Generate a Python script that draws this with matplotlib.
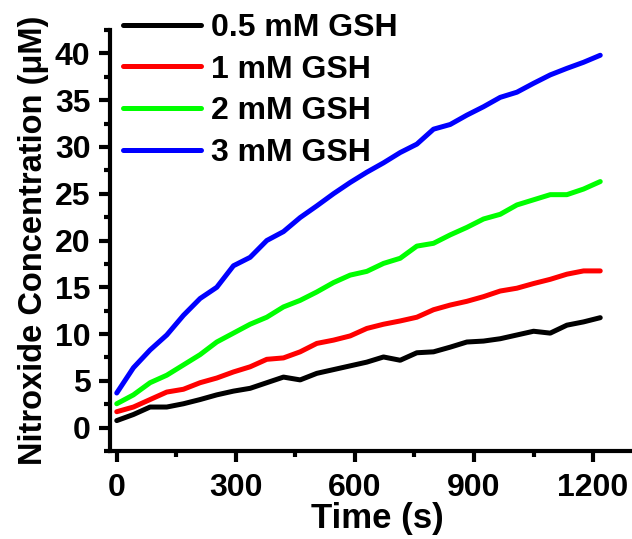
import matplotlib
matplotlib.use("Agg")
import matplotlib.pyplot as plt
from matplotlib.ticker import MultipleLocator

plt.rcParams['font.family'] = ['Liberation Sans', 'DejaVu Sans']
plt.rcParams['font.weight'] = 'bold'

# sampling times (s)
time_s = [0, 42, 84, 126, 168, 210, 252, 294, 336, 378,
          420, 462, 504, 546, 588, 630, 672, 714, 756, 798,
          840, 882, 924, 966, 1008, 1050, 1092, 1134, 1176, 1218]

# nitroxide concentration (uM) for each GSH level
gsh_05 = [0.75, 1.4, 2.2, 2.2, 2.55, 3.0, 3.5, 3.9, 4.2, 4.8,
          5.4, 5.1, 5.8, 6.2, 6.6, 7.0, 7.55, 7.2, 8.0, 8.1,
          8.6, 9.15, 9.25, 9.5, 9.9, 10.3, 10.1, 10.95, 11.3, 11.75]
gsh_1 = [1.7, 2.2, 3.0, 3.8, 4.1, 4.8, 5.3, 5.95, 6.5, 7.3,
         7.45, 8.1, 9.0, 9.35, 9.8, 10.6, 11.05, 11.4, 11.8, 12.6,
         13.1, 13.5, 14.0, 14.6, 14.9, 15.4, 15.85, 16.4, 16.75, 16.75]
gsh_2 = [2.55, 3.5, 4.8, 5.6, 6.7, 7.8, 9.15, 10.1, 11.05, 11.8,
         12.9, 13.6, 14.5, 15.5, 16.3, 16.7, 17.55, 18.1, 19.4, 19.7,
         20.6, 21.4, 22.3, 22.8, 23.8, 24.35, 24.9, 24.9, 25.5, 26.3]
gsh_3 = [3.7, 6.4, 8.3, 9.9, 12.0, 13.8, 15.0, 17.3, 18.2, 20.0,
         20.95, 22.45, 23.7, 25.0, 26.2, 27.3, 28.3, 29.4, 30.3, 31.9,
         32.4, 33.4, 34.3, 35.3, 35.85, 36.8, 37.7, 38.4, 39.05, 39.8]

labels = ['0.5 mM GSH', '1 mM GSH', '2 mM GSH', '3 mM GSH']
colors = ['#000000', '#ff0000', '#00ff00', '#0000ff']

fig = plt.figure(figsize=(6.32, 5.39), dpi=100)
ax = fig.add_axes([110 / 632, 1 - 451 / 539, 522 / 632, 421 / 539])

for y, lab, c in zip([gsh_05, gsh_1, gsh_2, gsh_3], labels, colors):
    ax.plot(time_s, y, color=c, lw=3.6, label=lab, solid_capstyle='round')

ax.set_xlim(-17, 1298)
ax.set_ylim(-2.5, 42.5)
ax.xaxis.set_major_locator(MultipleLocator(300))
ax.xaxis.set_minor_locator(MultipleLocator(150))
ax.yaxis.set_major_locator(MultipleLocator(5))
ax.yaxis.set_minor_locator(MultipleLocator(2.5))

for side in ['top', 'right']:
    ax.spines[side].set_visible(False)
for side in ['left', 'bottom']:
    ax.spines[side].set_linewidth(3)

ax.tick_params(which='major', direction='out', length=8, width=3,
               labelsize=23, pad=6)
ax.tick_params(which='minor', direction='out', length=4.5, width=3)
ax.tick_params(axis='x', which='major', pad=8)

ax.set_xlabel('Time (s)', fontsize=25, fontweight='bold')
ax.xaxis.set_label_coords(0.512, -0.122)
ax.set_ylabel('Nitroxide Concentration (\u03bcM)', fontsize=23.5,
              fontweight='bold', labelpad=4)

leg = ax.legend(loc='upper left', bbox_to_anchor=(0.025, 1.041), frameon=False,
                fontsize=23, handlelength=2.45, handletextpad=0.3,
                labelspacing=0.37, borderpad=0, borderaxespad=0)

fig.savefig('out.png', dpi=100)
